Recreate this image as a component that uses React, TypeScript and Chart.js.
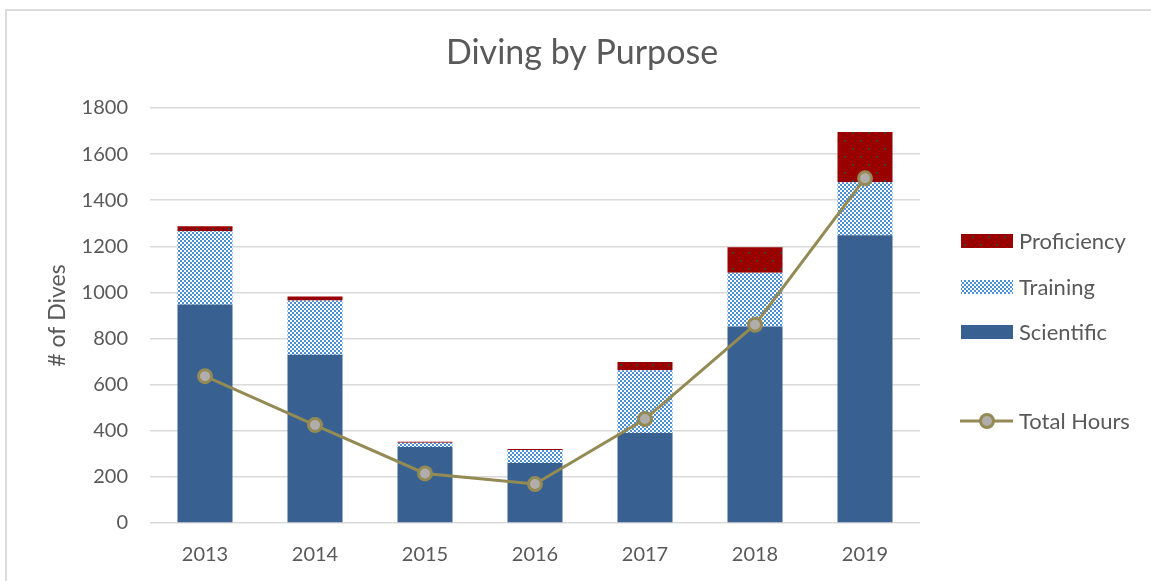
import React, { useEffect, useRef } from 'react';
import { Chart, registerables } from 'chart.js';

Chart.register(...registerables);

const years = ['2013', '2014', '2015', '2016', '2017', '2018', '2019'];
const scientific = [948, 730, 330, 260, 390, 852, 1248];
const training = [317, 235, 18, 57, 273, 233, 230];
const proficiency = [22, 17, 4, 4, 35, 111, 218];
const totalHours = [637, 425, 215, 169, 451, 860, 1495];
const yMax = 1800;
const yStep = 200;
const chartTitle = 'Diving by Purpose';
const yTitle = '# of Dives';

const FONT = 'Lato, "Noto Sans", sans-serif';
const TEXT = '#595959';
const GRID = '#d9d9d9';
const SCI = '#386192';
const LINE = '#948a54';
const MARK = '#b0adaa';

function checkerPattern(ctx: CanvasRenderingContext2D): CanvasPattern {
  const c = document.createElement('canvas');
  c.width = 4;
  c.height = 4;
  const g = c.getContext('2d')!;
  g.fillStyle = '#ffffff';
  g.fillRect(0, 0, 4, 4);
  g.fillStyle = '#4a8ed6';
  g.fillRect(0, 0, 2, 2);
  g.fillRect(2, 2, 2, 2);
  return ctx.createPattern(c, 'repeat')!;
}

function dotPattern(ctx: CanvasRenderingContext2D): CanvasPattern {
  const c = document.createElement('canvas');
  c.width = 16;
  c.height = 16;
  const g = c.getContext('2d')!;
  g.fillStyle = '#990000';
  g.fillRect(0, 0, 16, 16);
  g.fillStyle = '#3e3a3a';
  g.fillRect(4, 4, 2, 2);
  g.fillRect(12, 12, 2, 2);
  return ctx.createPattern(c, 'repeat')!;
}

export default function App() {
  const ref = useRef<HTMLCanvasElement | null>(null);

  useEffect(() => {
    const canvas = ref.current!;
    const ctx = canvas.getContext('2d')!;
    const checker = checkerPattern(ctx);
    const dots = dotPattern(ctx);

    const decorPlugin = {
      id: 'decor',
      afterDraw(chart: any) {
        const c = chart.ctx as CanvasRenderingContext2D;
        const ds = chart.data.datasets;
        c.save();
        // title, centred on the whole chart box
        c.font = `34px ${FONT}`;
        c.fillStyle = TEXT;
        c.textAlign = 'center';
        c.textBaseline = 'middle';
        c.fillText(chartTitle, 582, 53);

        const bx = 961;
        const bw = 52;
        const bh = 14;
        const tx = 1019;
        const rows = [
          { d: ds[2], y: 241, kind: 'box' },
          { d: ds[1], y: 287, kind: 'box' },
          { d: ds[0], y: 332, kind: 'box' },
          { d: ds[3], y: 421, kind: 'line' },
        ];
        c.font = `22px ${FONT}`;
        c.textBaseline = 'middle';
        c.textAlign = 'left';
        rows.forEach((r) => {
          if (r.kind === 'box') {
            c.fillStyle = r.d.backgroundColor;
            c.fillRect(bx, r.y - bh / 2, bw, bh);
          } else {
            c.strokeStyle = LINE;
            c.lineWidth = 3;
            c.beginPath();
            c.moveTo(bx - 1, r.y);
            c.lineTo(bx + bw, r.y);
            c.stroke();
            c.beginPath();
            c.arc(bx + bw / 2, r.y, 6.5, 0, Math.PI * 2);
            c.fillStyle = MARK;
            c.fill();
            c.stroke();
          }
          c.fillStyle = TEXT;
          c.fillText(r.d.label, tx, r.y + 1);
        });
        c.restore();
      },
    };

    const chart = new Chart(canvas, {
      type: 'bar',
      data: {
        labels: years,
        datasets: [
          {
            type: 'bar',
            label: 'Scientific',
            data: scientific,
            backgroundColor: SCI,
            stack: 'dives',
            order: 1,
            barPercentage: 0.5,
            categoryPercentage: 1,
          },
          {
            type: 'bar',
            label: 'Training',
            data: training,
            backgroundColor: checker as any,
            stack: 'dives',
            order: 1,
            barPercentage: 0.5,
            categoryPercentage: 1,
          },
          {
            type: 'bar',
            label: 'Proficiency',
            data: proficiency,
            backgroundColor: dots as any,
            stack: 'dives',
            order: 1,
            barPercentage: 0.5,
            categoryPercentage: 1,
          },
          {
            type: 'line',
            label: 'Total Hours',
            data: totalHours,
            borderColor: LINE,
            borderWidth: 3,
            backgroundColor: MARK,
            pointBackgroundColor: MARK,
            pointBorderColor: LINE,
            pointBorderWidth: 3,
            pointRadius: 6.5,
            tension: 0,
            stack: 'hours',
            order: 0,
          } as any,
        ],
      },
      options: {
        animation: false,
        responsive: false,
        maintainAspectRatio: false,
        layout: { padding: { left: 0, right: 231, top: 108, bottom: 0 } },
        plugins: {
          legend: { display: false },
          tooltip: { enabled: false },
          title: { display: false },
        },
        scales: {
          x: {
            stacked: true,
            grid: { display: false },
            border: { display: false },
            ticks: { color: TEXT, font: { family: FONT, size: 20 }, padding: 12 },
            afterFit: (s: any) => {
              s.height = 58;
            },
          },
          y: {
            stacked: true,
            min: 0,
            max: yMax,
            ticks: {
              stepSize: yStep,
              color: TEXT,
              font: { family: FONT, size: 20 },
              padding: 22,
              callback: (v: any) => String(v),
            },
            grid: { color: GRID, lineWidth: 1.5, drawTicks: false },
            border: { display: false },
            title: {
              display: true,
              text: yTitle,
              color: TEXT,
              font: { family: FONT, size: 23 },
              padding: { top: 44, bottom: 0 },
            },
            afterFit: (s: any) => {
              s.width = 150;
            },
          },
        },
      },
      plugins: [decorPlugin],
    });
    return () => chart.destroy();
  }, []);

  return (
    <div style={{ position: 'fixed', left: 0, top: 0, width: 1151, height: 581, background: '#fff', overflow: 'hidden' }}>
      <div
        style={{
          position: 'absolute',
          left: 5,
          top: 9,
          width: 2000,
          height: 2000,
          borderLeft: '2px solid #dcdcdc',
          borderTop: '2px solid #dcdcdc',
        }}
      />
      <canvas ref={ref} width={1151} height={581} style={{ position: 'absolute', left: 0, top: 0, width: 1151, height: 581 }} />
    </div>
  );
}
